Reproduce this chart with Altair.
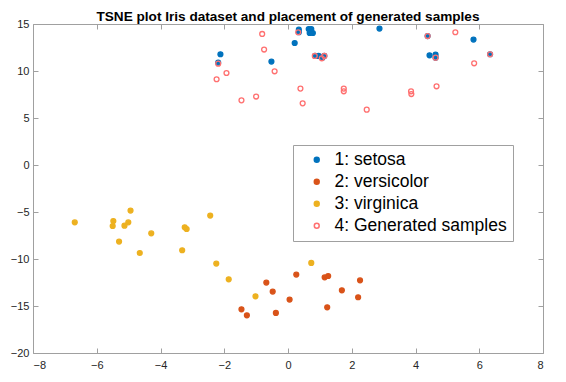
import altair as alt
import pandas as pd

series_names = ["1: setosa", "2: versicolor", "3: virginica", "4: Generated samples"]
series_colors = ["#0072BD", "#D95319", "#EDB120", "#FF7070"]

setosa_x = [-2.12, -2.19, -0.52, 0.21, 0.34, 0.34, 0.65, 0.73, 0.68, 0.78, 0.85, 0.96, 1.08, 1.14, 2.87, 4.38, 4.44, 4.63, 4.63, 5.82, 6.34]
setosa_y = [11.78, 10.89, 11.0, 12.98, 14.12, 14.4, 14.47, 14.47, 14.04, 14.04, 11.6, 11.6, 11.42, 11.6, 14.51, 13.72, 11.67, 11.74, 11.42, 13.34, 11.78]

versicolor_x = [-1.46, -1.29, -0.68, -0.48, -0.38, 0.05, 0.26, 1.15, 1.26, 1.23, 1.69, 2.20, 2.26]
versicolor_y = [-15.35, -15.99, -12.51, -13.47, -15.74, -14.32, -11.66, -11.95, -11.81, -15.14, -13.33, -14.07, -12.27]

virginica_x = [-6.69, -5.48, -5.50, -5.13, -5.01, -4.94, -5.30, -4.65, -4.29, -3.32, -3.24, -3.18, -2.44, -2.25, -1.86, -1.02, 0.73]
virginica_y = [-6.10, -5.96, -6.49, -6.45, -6.10, -4.85, -8.15, -9.36, -7.27, -9.07, -6.63, -6.81, -5.38, -10.49, -12.16, -13.97, -10.42]

generated_x = [-0.81, 0.32, -0.75, -2.19, -1.93, -2.24, -0.42, 0.84, 1.06, 1.14, 0.39, -1.00, -1.46, 0.46, 1.75, 1.75, 2.47, 4.38, 5.25, 4.63, 6.34, 5.84, 4.66, 3.86, 3.87]
generated_y = [13.94, 14.12, 12.28, 10.78, 9.79, 9.12, 9.97, 11.6, 11.35, 11.6, 8.13, 7.28, 6.88, 6.56, 8.13, 7.84, 5.89, 13.72, 14.12, 11.42, 11.78, 10.82, 8.37, 7.84, 7.55]

x_ticks = [-8, -6, -4, -2, 0, 2, 4, 6, 8]
y_ticks = [-20, -15, -10, -5, 0, 5, 10, 15]

rows = []
for name, xs, ys in [
    (series_names[0], setosa_x, setosa_y),
    (series_names[1], versicolor_x, versicolor_y),
    (series_names[2], virginica_x, virginica_y),
    (series_names[3], generated_x, generated_y),
]:
    for a, b in zip(xs, ys):
        rows.append({"x": a, "y": b, "series": name})
df = pd.DataFrame(rows)
df["order"] = range(len(df))

FONT = "Liberation Sans"
AXCOL = "#A0A0A0"
LABCOL = "#262626"

xscale = alt.Scale(domain=[-8, 8], nice=False, zero=False)
yscale = alt.Scale(domain=[-20, 15], nice=False, zero=False)

leg = alt.Legend(
    title=None, orient="none", legendX=260, legendY=121,
    strokeColor=AXCOL, fillColor="white", padding=6,
    symbolOffset=9, labelOffset=9, rowPadding=3,
    labelFontSize=17.5, labelFont=FONT, labelColor="black",
    symbolType="circle", labelLimit=400,
)

points = alt.Chart(df).mark_point(shape="circle", opacity=1, strokeWidth=1.3).encode(
    x=alt.X("x:Q", scale=xscale, title=None,
            axis=alt.Axis(values=x_ticks, orient="bottom", offset=-5, tickSize=5, domain=False,
                          grid=False, tickColor=AXCOL, labelColor=LABCOL, labelFontSize=11,
                          labelFont=FONT, labelPadding=6)),
    y=alt.Y("y:Q", scale=yscale, title=None,
            axis=alt.Axis(values=y_ticks, orient="left", offset=-5, tickSize=5, domain=False,
                          grid=False, tickColor=AXCOL, labelColor=LABCOL, labelFontSize=11,
                          labelFont=FONT, labelPadding=4)),
    fill=alt.Fill("series:N", scale=alt.Scale(domain=series_names,
                  range=[series_colors[0], series_colors[1], series_colors[2], "transparent"]), legend=leg),
    stroke=alt.Stroke("series:N", scale=alt.Scale(domain=series_names, range=series_colors), legend=leg),
    size=alt.Size("series:N", scale=alt.Scale(domain=series_names, range=[24, 24, 24, 95]), legend=leg),
    order=alt.Order("order:Q"),
)

frame = alt.Chart(df).mark_point(opacity=0).encode(
    x=alt.X("x:Q", scale=xscale, title=None,
            axis=alt.Axis(values=x_ticks, orient="top", offset=-5, tickSize=5, domain=False,
                          grid=False, tickColor=AXCOL, labels=False)),
    y=alt.Y("y:Q", scale=yscale, title=None,
            axis=alt.Axis(values=y_ticks, orient="right", offset=-5, tickSize=5, domain=False,
                          grid=False, tickColor=AXCOL, labels=False)),
)

chart = alt.layer(points, frame).resolve_axis(x="independent", y="independent").properties(
    width=510, height=329,
    autosize=alt.AutoSizeParams(type="none"),
    padding={"left": 25, "top": 16, "right": 15, "bottom": 21},
    title=alt.TitleParams("TSNE plot Iris dataset and placement of generated samples",
                          fontSize=13.6, fontWeight="bold", font=FONT, color="black",
                          anchor="middle", offset=-6),
).configure_view(stroke=AXCOL, strokeWidth=1)

chart.save("out.html", embed_options={"renderer": "svg", "actions": False})
